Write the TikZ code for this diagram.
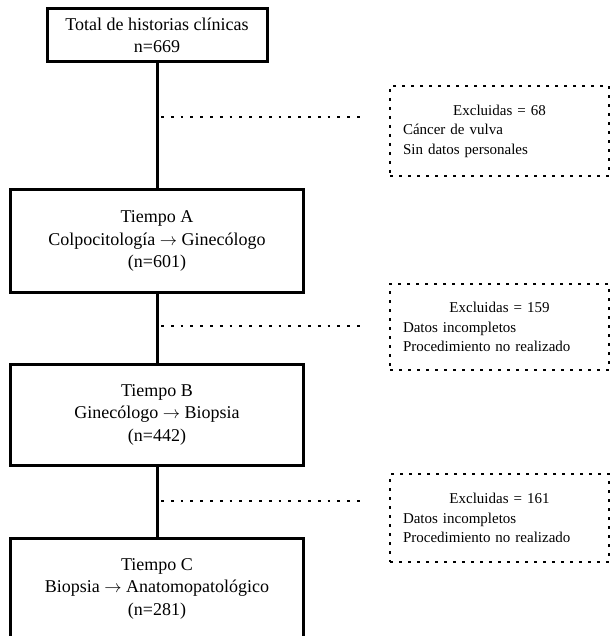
\documentclass[tikz,border=0pt]{standalone}
\usepackage{fontspec}
\setmainfont{Liberation Serif}
\usetikzlibrary{positioning,calc}

\begin{document}
\begin{tikzpicture}[x=1pt,y=-1pt,
    caja/.style={draw=black, line width=3pt, align=center, inner sep=0pt, font=\fontsize{18}{22.5}\selectfont},
    excluidas/.style={draw=black, line width=2.8pt, dash pattern=on 2.8pt off 6.2pt, align=left, text width=193pt, inner xsep=13pt, inner ysep=0pt, font=\fontsize{15}{19.5}\selectfont},
    linea/.style={line width=3pt},
    puntos/.style={line width=2.8pt, dash pattern=on 2.8pt off 7pt, shorten <=4pt, shorten >=25pt}]
      \useasboundingbox (0,0) rectangle (611,636);

      \node[caja, minimum width=220pt, minimum height=53pt] (total) at (157,35.5) {Total de historias clínicas\\n=669};
      \node[caja, minimum width=293pt, minimum height=102pt] (tA) at (157,241) {Tiempo A\\Colpocitología $\rightarrow$ Ginecólogo\\(n=601)};
      \node[caja, minimum width=293pt, minimum height=101pt] (tB) at (157,414.5) {Tiempo B\\Ginecólogo $\rightarrow$ Biopsia\\(n=442)};
      \node[caja, minimum width=293pt, minimum height=101pt] (tC) at (157,588.5) {Tiempo C\\Biopsia $\rightarrow$ Anatomopatológico\\(n=281)};

      \node[excluidas, minimum height=90pt] (ex1) at (499.5,131) {\makebox[193pt]{Excluidas = 68}\\Cáncer de vulva\\Sin datos personales};
      \node[excluidas, minimum height=86pt] (ex2) at (499.5,327) {\makebox[193pt]{Excluidas = 159}\\Datos incompletos\\Procedimiento no realizado};
      \node[excluidas, minimum height=88pt] (ex3) at (499.5,518) {\makebox[193pt]{Excluidas = 161}\\Datos incompletos\\Procedimiento no realizado};

      \draw[linea] (total) -- (tA);
      \draw[linea] (tA) -- (tB);
      \draw[linea] (tB) -- (tC);

      \coordinate (p1) at (157,117);
      \coordinate (p2) at (157,326);
      \coordinate (p3) at (157,501);
      \draw[puntos] (p1) -- (p1 -| ex1.west);
      \draw[puntos] (p2) -- (p2 -| ex2.west);
      \draw[puntos] (p3) -- (p3 -| ex3.west);
    \end{tikzpicture}
\end{document}
